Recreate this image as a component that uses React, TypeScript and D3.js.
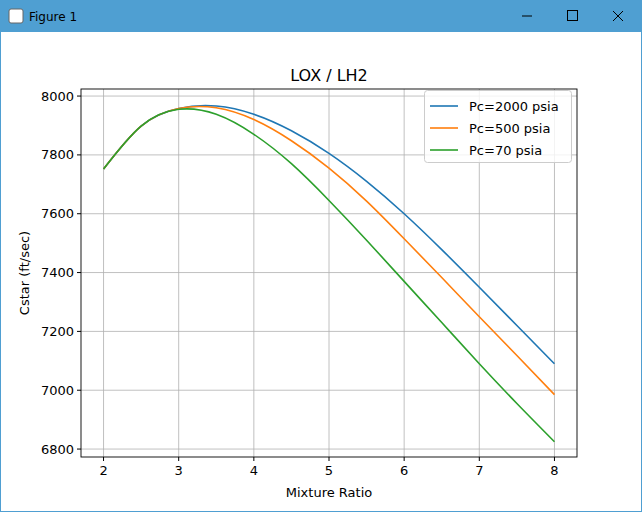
import * as d3 from 'd3';

const xVals = [2, 2.5, 3, 3.5, 4, 4.5, 5, 5.5, 6, 6.5, 7, 7.5, 8];
const pc2000 = [7752, 7898, 7958, 7966, 7938, 7882, 7805, 7710, 7600, 7478, 7350, 7220, 7090];
const pc500 = [7752, 7898, 7958, 7960, 7920, 7848, 7755, 7643, 7515, 7383, 7250, 7118, 6985];
const pc70 = [7752, 7898, 7955, 7938, 7870, 7770, 7645, 7510, 7370, 7230, 7090, 6955, 6825];
const seriesNames = ['Pc=2000 psia', 'Pc=500 psia', 'Pc=70 psia'];
const colors = ['#1f77b4', '#ff7f0e', '#2ca02c'];
const xTicks = [2, 3, 4, 5, 6, 7, 8];
const yTicks = [6800, 7000, 7200, 7400, 7600, 7800, 8000];

const font = 'DejaVu Sans, sans-serif';

export default function App() {
  const W = 642, H = 512;
  const left = 81, right = 577, top = 89, bottom = 457;
  const x = d3.scaleLinear().domain([1.7, 8.3]).range([left, right]);
  const y = d3.scaleLinear().domain([6773, 8024]).range([bottom, top]);
  const line = d3.line<number>().x((_, i) => x(xVals[i])).y(d => y(d)).curve(d3.curveNatural);
  const all = [pc2000, pc500, pc70];
  return (
    <svg width={W} height={H} style={{ position: 'absolute', left: 0, top: 0 }} fontFamily={font}>
      <rect width={W} height={H} fill="#fff" />
      <rect x={0} y={0} width={W} height={32} fill="#4f9fd2" />
      <rect x={0.5} y={0.5} width={W - 1} height={H - 1} fill="none" stroke="#4f9fd2" />
      <rect x={9} y={9} width={14} height={14} fill="#fff" stroke="#666" rx={2} />
      <text x={29} y={21} fontSize={12} fontFamily="Segoe UI, DejaVu Sans, sans-serif">Figure 1</text>
      <line x1={522} x2={532} y1={16} y2={16} stroke="#000" />
      <rect x={567.5} y={10.5} width={10} height={10} fill="none" stroke="#000" />
      <path d="M613,11 L623,21 M623,11 L613,21" stroke="#000" />
      {xTicks.map(t => (
        <g key={t}>
          <line x1={x(t)} x2={x(t)} y1={top} y2={bottom} stroke="#b0b0b0" strokeWidth={0.8} />
          <line x1={x(t)} x2={x(t)} y1={bottom} y2={bottom + 4} stroke="#000" />
          <text x={x(t)} y={bottom + 18} fontSize={13} textAnchor="middle">{t}</text>
        </g>
      ))}
      {yTicks.map(t => (
        <g key={t}>
          <line x1={left} x2={right} y1={y(t)} y2={y(t)} stroke="#b0b0b0" strokeWidth={0.8} />
          <line x1={left - 4} x2={left} y1={y(t)} y2={y(t)} stroke="#000" />
          <text x={left - 7} y={y(t) + 4.5} fontSize={13} textAnchor="end">{t}</text>
        </g>
      ))}
      {all.map((s, i) => (
        <path key={i} d={line(s) || ''} fill="none" stroke={colors[i]} strokeWidth={1.6} />
      ))}
      <rect x={left} y={top} width={right - left} height={bottom - top} fill="none" stroke="#000" strokeWidth={0.9} />
      <text x={(left + right) / 2} y={81} fontSize={16} textAnchor="middle">LOX / LH2</text>
      <text x={(left + right) / 2} y={497} fontSize={13} textAnchor="middle">Mixture Ratio</text>
      <text transform={`translate(29,${(top + bottom) / 2}) rotate(-90)`} fontSize={13} textAnchor="middle">Cstar (ft/sec)</text>
      <rect x={424.5} y={90.5} width={147} height={72} fill="#fff" fillOpacity={0.8} stroke="#ccc" rx={3} />
      {seriesNames.map((n, i) => (
        <g key={n}>
          <line x1={430} x2={458} y1={106 + i * 22} y2={106 + i * 22} stroke={colors[i]} strokeWidth={1.6} />
          <text x={469} y={111 + i * 22} fontSize={13}>{n}</text>
        </g>
      ))}
    </svg>
  );
}
